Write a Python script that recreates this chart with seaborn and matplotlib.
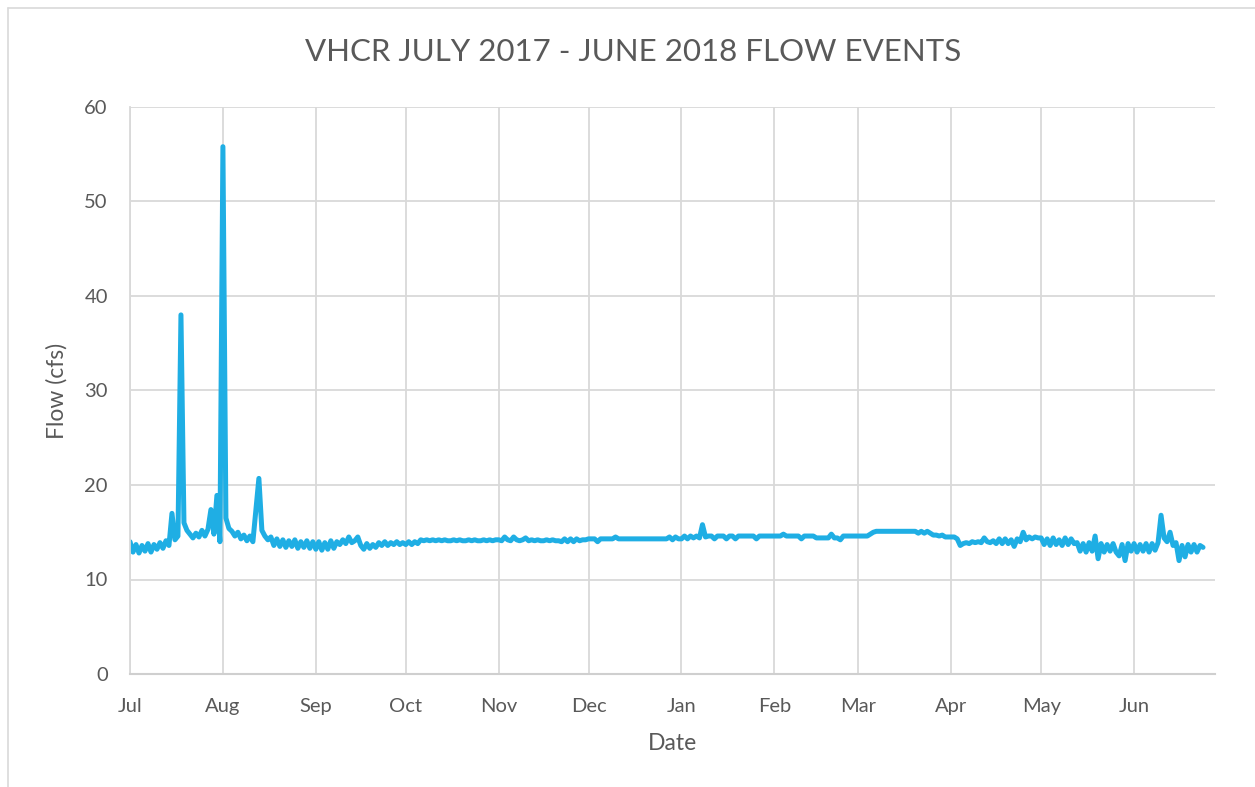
import pandas as pd
import numpy as np
import matplotlib
matplotlib.use("Agg")
import matplotlib.pyplot as plt
import matplotlib.dates as mdates
from matplotlib.lines import Line2D
import seaborn as sns

# daily flow readings (cfs), Jul 1 2017 - Jun 24 2018
jul_flow = [14.0, 12.9, 13.7, 12.8, 13.6, 13.0, 13.8, 12.9, 13.7, 13.2, 13.9, 13.3, 14.1, 13.6, 17.0, 14.2,
            14.6, 38.0, 16.0, 15.2, 14.8, 14.4, 14.9, 14.5, 15.2, 14.6, 15.3, 17.4, 14.8, 18.9, 14.0]
aug_flow = [55.8, 16.5, 15.4, 15.1, 14.6, 15.0, 14.3, 14.7, 14.1, 14.6, 14.0, 17.3, 20.7, 15.2, 14.6, 14.2,
            14.5, 13.6, 14.3, 13.5, 14.2, 13.4, 14.1, 13.5, 14.2, 13.3, 14.0, 13.4, 14.1, 13.3, 14.0]
sep_flow = [13.2, 14.0, 13.1, 13.9, 13.2, 14.1, 13.3, 14.0, 13.7, 14.2, 13.8, 14.5, 13.9, 14.1, 14.5, 13.6,
            13.2, 13.8, 13.3, 13.7, 13.4, 13.9, 13.6, 14.0, 13.6, 13.9, 13.7, 14.0, 13.7, 13.9]
oct_flow = [13.7, 14.0, 13.7, 14.0, 13.8, 14.2, 14.1, 14.2, 14.1, 14.2, 14.1, 14.2, 14.1, 14.2, 14.1, 14.1,
            14.2, 14.1, 14.2, 14.1, 14.1, 14.2, 14.1, 14.2, 14.1, 14.1, 14.2, 14.1, 14.2, 14.1, 14.2]
nov_flow = [14.2, 14.1, 14.5, 14.2, 14.1, 14.5, 14.2, 14.1, 14.2, 14.4, 14.1, 14.2, 14.1, 14.2, 14.1, 14.1,
            14.2, 14.1, 14.2, 14.1, 14.1, 14.0, 14.3, 14.0, 14.3, 14.0, 14.3, 14.1, 14.2, 14.2]
dec_flow = [14.3, 14.3, 14.3, 14.0, 14.3, 14.3, 14.3, 14.3, 14.3, 14.5, 14.3, 14.3, 14.3, 14.3, 14.3, 14.3,
            14.3, 14.3, 14.3, 14.3, 14.3, 14.3, 14.3, 14.3, 14.3, 14.3, 14.3, 14.5, 14.2, 14.5, 14.3]
jan_flow = [14.3, 14.6, 14.3, 14.6, 14.4, 14.6, 14.4, 15.8, 14.5, 14.6, 14.6, 14.3, 14.6, 14.6, 14.6, 14.3,
            14.6, 14.6, 14.3, 14.6, 14.6, 14.6, 14.6, 14.6, 14.6, 14.3, 14.6, 14.6, 14.6, 14.6, 14.6]
feb_flow = [14.6, 14.6, 14.6, 14.8, 14.6, 14.6, 14.6, 14.6, 14.6, 14.3, 14.6, 14.6, 14.6, 14.6, 14.4, 14.4,
            14.4, 14.4, 14.4, 14.8, 14.4, 14.4, 14.2, 14.6, 14.6, 14.6, 14.6, 14.6]
mar_flow = [14.6, 14.6, 14.6, 14.6, 14.8, 15.0, 15.1, 15.1, 15.1, 15.1, 15.1, 15.1, 15.1, 15.1, 15.1, 15.1,
            15.1, 15.1, 15.1, 15.1, 14.9, 15.1, 14.9, 15.1, 14.9, 14.7, 14.7, 14.6, 14.7, 14.5, 14.5]
apr_flow = [14.5, 14.5, 14.3, 13.6, 13.8, 13.9, 13.8, 14.0, 13.9, 14.0, 13.9, 14.4, 14.0, 13.9, 14.1, 13.8,
            14.3, 13.8, 14.3, 13.8, 14.2, 13.5, 14.3, 14.0, 15.0, 14.2, 14.5, 14.3, 14.5, 14.4]
may_flow = [14.4, 13.7, 14.3, 13.6, 14.4, 13.7, 14.2, 13.6, 14.4, 13.7, 14.3, 13.8, 13.9, 13.0, 13.8, 12.9,
            13.9, 13.0, 14.6, 12.2, 13.8, 12.9, 13.7, 13.0, 13.8, 12.9, 12.5, 13.7, 12.0, 13.8, 13.0]
jun_flow = [13.8, 12.9, 13.7, 13.0, 13.8, 12.9, 13.8, 13.1, 13.9, 16.8, 14.4, 14.0, 15.0, 13.6, 13.9, 12.0,
            13.6, 12.4, 13.7, 12.9, 13.7, 12.9, 13.6, 13.4]

y_ticks = [0, 10, 20, 30, 40, 50, 60]

TEXT = "#595959"
GRID = "#D9D9D9"
LINE = "#1FAEE4"


def build_frame():
    flow = (jul_flow + aug_flow + sep_flow + oct_flow + nov_flow + dec_flow
            + jan_flow + feb_flow + mar_flow + apr_flow + may_flow + jun_flow)
    dates = pd.date_range("2017-07-01", periods=len(flow), freq="D")
    return pd.DataFrame({"Date": dates, "Flow": flow})


def plot_flow(df, save_path="out.png"):
    sns.set_style("white")
    plt.rcParams["font.family"] = ["Lato", "DejaVu Sans"]

    fig = plt.figure(figsize=(12.55, 7.87), dpi=100)
    ax = fig.add_axes([130 / 1255, 1 - 674 / 787, (1215 - 130) / 1255, (674 - 107) / 787])

    sns.lineplot(data=df, x="Date", y="Flow", ax=ax, color=LINE, linewidth=3.6)

    ax.set_ylim(0, 60)
    ax.set_yticks(y_ticks)
    ax.set_xlim(pd.Timestamp("2017-07-01"), pd.Timestamp("2018-06-28"))
    ax.xaxis.set_major_locator(mdates.MonthLocator())
    ax.xaxis.set_major_formatter(mdates.DateFormatter("%b"))

    ax.grid(True, color=GRID, linewidth=1.3)
    ax.set_axisbelow(True)
    for side in ["top", "right"]:
        ax.spines[side].set_visible(False)
    ax.spines["left"].set_color(GRID)
    ax.spines["left"].set_linewidth(1.3)
    ax.spines["bottom"].set_color("#CFCFCF")
    ax.spines["bottom"].set_linewidth(1.5)

    ax.tick_params(length=0, labelsize=14.5, colors=TEXT)
    ax.tick_params(axis="x", pad=17)
    ax.tick_params(axis="y", pad=16)
    ax.set_xlabel("Date", fontsize=16.5, color=TEXT, labelpad=13)
    ax.set_ylabel("Flow (cfs)", fontsize=16.5, color=TEXT, labelpad=12)

    fig.text(633 / 1255, 1 - 52 / 787, "VHCR JULY 2017 - JUNE 2018 FLOW EVENTS",
             ha="center", va="center", fontsize=22.5, color=TEXT)

    # chart-area border (left and top edges visible in the source)
    fig.add_artist(Line2D([8 / 1255, 8 / 1255], [0, 1 - 8 / 787], transform=fig.transFigure,
                          color=GRID, linewidth=1.2))
    fig.add_artist(Line2D([8 / 1255, 1], [1 - 8 / 787, 1 - 8 / 787], transform=fig.transFigure,
                          color=GRID, linewidth=1.2))

    fig.savefig(save_path, dpi=100)
    plt.close(fig)


if __name__ == "__main__":
    plot_flow(build_frame())
